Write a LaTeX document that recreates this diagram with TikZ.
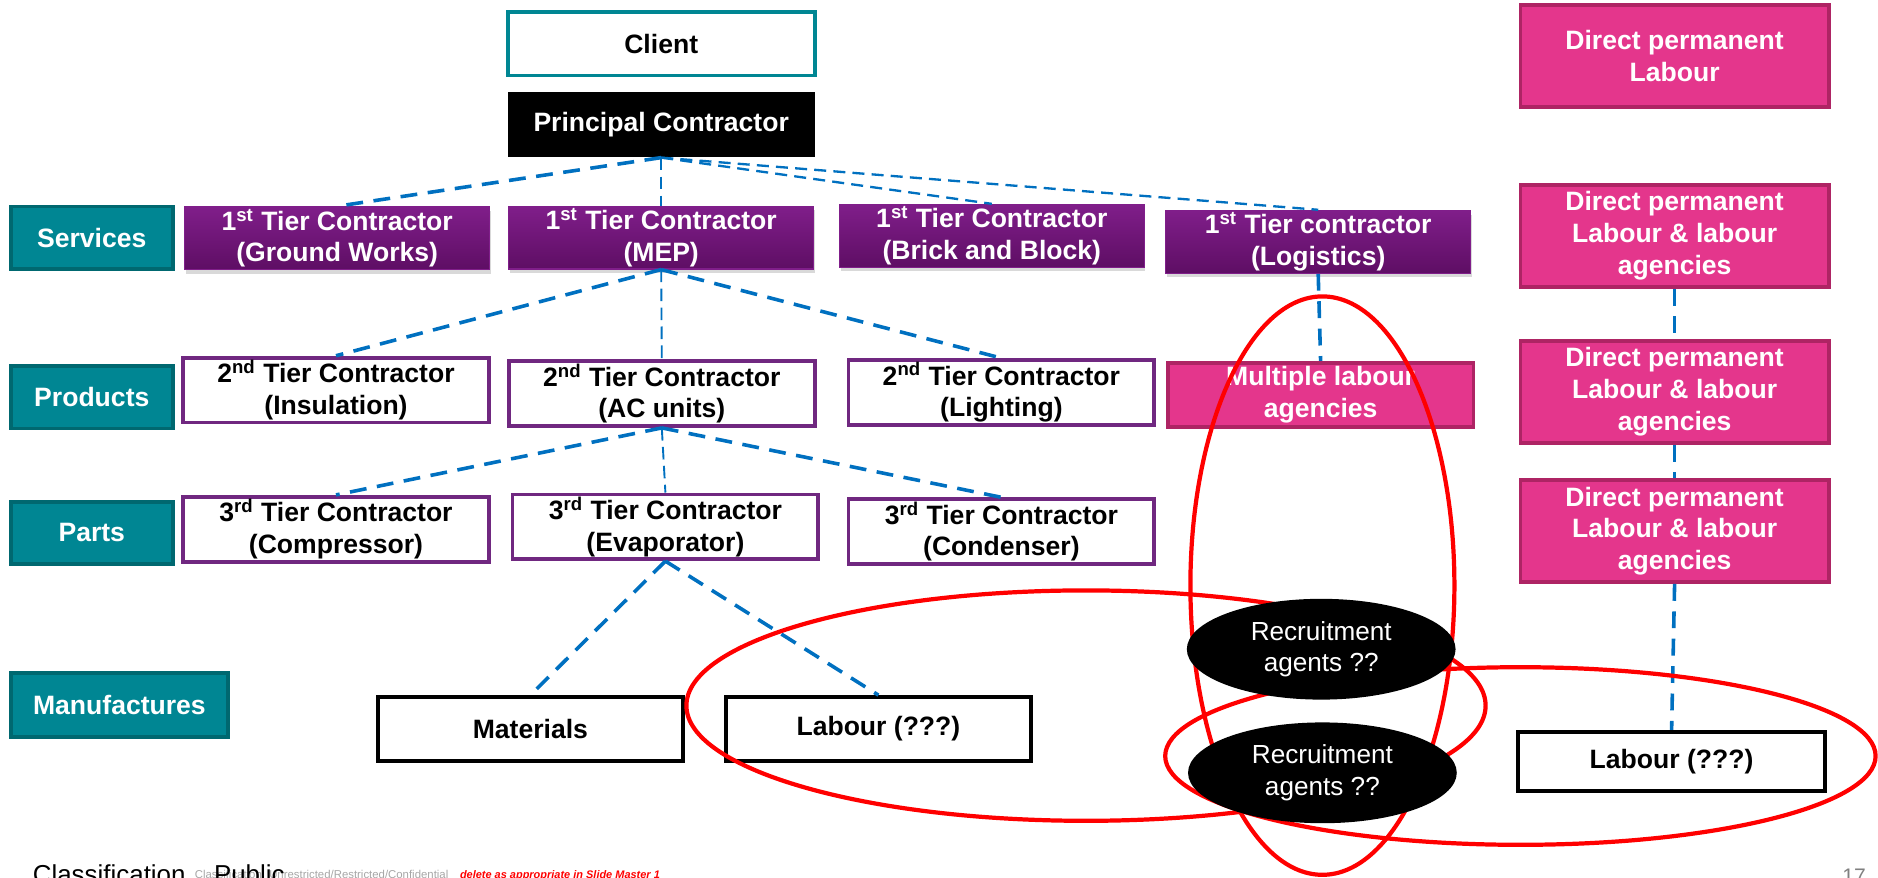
\documentclass[tikz,border=0pt]{standalone}
\usepackage{fontspec}
\setmainfont{Liberation Sans}
\usetikzlibrary{shapes.geometric,shadows}

\definecolor{teal1}{RGB}{0,134,147}
\definecolor{tealdark}{RGB}{0,104,112}
\definecolor{tiertop}{RGB}{128,30,138}
\definecolor{tierbot}{RGB}{94,14,100}
\definecolor{tierline}{RGB}{112,40,128}
\definecolor{pinkfill}{RGB}{228,54,140}
\definecolor{pinkline}{RGB}{174,36,100}
\definecolor{linkblue}{RGB}{0,112,192}

\newcommand{\boxfont}{\fontsize{12.6}{15}\selectfont\bfseries}

\tikzset{
    basebox/.style={rectangle, align=center, inner sep=1pt, font=\boxfont, minimum width=5.1cm, minimum height=1.08cm},
    clientbox/.style={basebox, draw=teal1, fill=white, line width=1.8pt, minimum width=5.12cm, minimum height=1.06cm},
    pcbox/.style={basebox, fill=black, text=white, minimum width=5.12cm},
    rowlabel/.style={basebox, fill=teal1, draw=tealdark, line width=1.8pt, text=white, minimum width=2.7cm, minimum height=1.04cm},
    tierone/.style={basebox, top color=tiertop, bottom color=tierbot, draw=tiertop, line width=0.6pt, text=white, minimum width=5.08cm, minimum height=1.02cm, drop shadow={shadow xshift=0.6pt, shadow yshift=-2pt, opacity=0.3}},
    tierlow/.style={basebox, draw=tierline, fill=white, line width=1.8pt},
    pinkbox/.style={basebox, fill=pinkfill, draw=pinkline, line width=1.8pt, text=white, minimum width=5.14cm, minimum height=1.7cm},
    endbox/.style={basebox, draw=black, fill=white, line width=2pt, minimum width=5.08cm, minimum height=1.06cm},
    agent/.style={ellipse, fill=black, text=white, align=center, font=\fontsize{12.4}{15}\selectfont, minimum width=4.48cm, minimum height=1.68cm, inner sep=0pt},
    link/.style={draw=linkblue, line width=1.7pt, dash pattern=on 8pt off 5pt},
    midlink/.style={draw=linkblue, line width=1.1pt, dash pattern=on 5.7pt off 3.4pt},
    thinlink/.style={draw=linkblue, line width=0.9pt, dash pattern=on 6pt off 3pt},
    ring/.style={draw=red, line width=2pt},
    foot/.style={anchor=base west, inner sep=0pt},
}

\begin{document}
\begin{tikzpicture}[x=0.02cm, y=-0.02cm]
    \useasboundingbox (0,0) rectangle (1565,731);
    \clip (0,0) rectangle (1565,731);

    \node[clientbox] (client) at (551,36.5) {Client};
    \node[pcbox] (pc) at (551,104) {Principal Contractor};

    \node[rowlabel] (services) at (76.5,198) {Services};
    \node[rowlabel] (products) at (76.5,331) {Products};
    \node[rowlabel] (parts) at (76.5,444) {Parts};
    \node[rowlabel, minimum width=3.62cm, minimum height=1.06cm] (manuf) at (99.5,587.5) {Manufactures};

    \node[tierone] (ground) at (281,198.5) {1\textsuperscript{st} Tier Contractor\\(Ground Works)};
    \node[tierone] (mep) at (551,198) {1\textsuperscript{st} Tier Contractor\\(MEP)};
    \node[tierone] (brick) at (826.5,196.5) {1\textsuperscript{st} Tier Contractor\\(Brick and Block)};
    \node[tierone] (logistics) at (1098.5,201.5) {1\textsuperscript{st} Tier contractor\\(Logistics)};

    \node[tierlow] (insulation) at (280,325) {2\textsuperscript{nd} Tier Contractor\\(Insulation)};
    \node[tierlow] (acunits) at (551.5,328) {2\textsuperscript{nd} Tier Contractor\\(AC units)};
    \node[tierlow] (lighting) at (834.5,327) {2\textsuperscript{nd} Tier Contractor\\(Lighting)};
    \node[pinkbox, minimum width=5.1cm, minimum height=1.07cm] (multi) at (1100.5,329) {Multiple labour\\agencies};

    \node[tierlow] (compressor) at (280,441) {3\textsuperscript{rd} Tier Contractor\\(Compressor)};
    \node[tierlow] (evaporator) at (554.5,439) {3\textsuperscript{rd} Tier Contractor\\(Evaporator)};
    \node[tierlow] (condenser) at (834.5,443) {3\textsuperscript{rd} Tier Contractor\\(Condenser)};

    \node[endbox] (materials) at (442,607.5) {Materials};
    \node[endbox] (labour) at (732,607.5) {Labour (???)};
    \node[endbox, minimum width=5.12cm, minimum height=0.98cm] (labourright) at (1393,634.5) {Labour (???)};

    \node[pinkbox] (permanent) at (1395.5,46.5) {Direct permanent\\Labour};
    \node[pinkbox] (agencyone) at (1395.5,196.5) {Direct permanent\\Labour \& labour\\agencies};
    \node[pinkbox] (agencytwo) at (1395.5,326.5) {Direct permanent\\Labour \& labour\\agencies};
    \node[pinkbox] (agencythree) at (1395.5,442.5) {Direct permanent\\Labour \& labour\\agencies};

    \draw[link] (pc.south) -- (ground.north);
    \draw[thinlink] (pc.south) -- (mep.north);
    \draw[midlink] (pc.south) -- (brick.north);
    \draw[midlink] (pc.south) -- (logistics.north);

    \draw[link] (mep.south) -- (insulation.north);
    \draw[thinlink] (mep.south) -- (acunits.north);
    \draw[link] (mep.south) -- (lighting.north);

    \draw[link] (acunits.south) -- (compressor.north);
    \draw[thinlink] (acunits.south) -- (evaporator.north);
    \draw[link] (acunits.south) -- (condenser.north);

    \draw[link] (evaporator.south) -- (materials.north);
    \draw[link] (evaporator.south) -- (labour.north);

    \draw[link] (logistics.south) -- (multi.north);
    \draw[link] (agencyone.south) -- (agencytwo.north);
    \draw[link] (agencytwo.south) -- (agencythree.north);
    \draw[link] (agencythree.south) -- (labourright.north);

    \draw[ring] (905,588) ellipse [x radius=333, y radius=96];
    \draw[ring] (1267,630) ellipse [x radius=296, y radius=74];
    \draw[ring] (1102,488) ellipse [x radius=110, y radius=241];

    \node[agent] (agentone) at (1101,541) {Recruitment\\agents ??};
    \node[agent] (agenttwo) at (1102,644) {Recruitment\\agents ??};

    \node[foot, font=\fontsize{12.3}{14}\selectfont] (classword) at (27,736.4) {Classification};
    \node[foot, text=gray!70, font=\fontsize{5.4}{6}\selectfont] (classline) at (162,731.8) {Classification: Unrestricted/Restricted/Confidential};
    \node[foot, font=\fontsize{12.3}{14}\selectfont] (public) at (178,736.4) {Public};
    \node[foot, text=red, font=\fontsize{5.2}{6}\selectfont\bfseries\itshape] (delnote) at (383,731.8) {delete as appropriate in Slide Master 1};
    \node[foot, text=gray, font=\fontsize{10}{12}\selectfont] (pagenum) at (1535,736) {17};
\end{tikzpicture}
\end{document}
